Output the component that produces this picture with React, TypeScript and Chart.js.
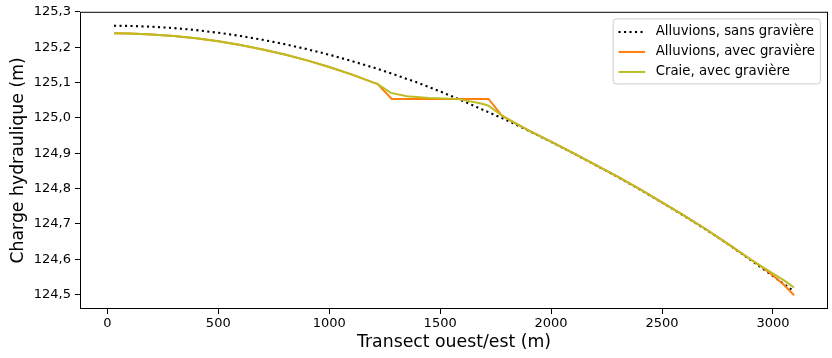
import React, { useEffect, useRef } from "react";
import { Chart, registerables } from "chart.js";

Chart.register(...registerables);

// ---- data ----
const seriesLabels = [
  "Alluvions, sans gravière",
  "Alluvions, avec gravière",
  "Craie, avec gravière",
];

const xBlack = [30, 100, 200, 300, 400, 500, 600, 700, 800, 900, 1000, 1100, 1200, 1300, 1400, 1500, 1600, 1700, 1800, 1900, 2000, 2100, 2200, 2300, 2400, 2500, 2600, 2700, 2800, 2900, 3000, 3095];
const yBlack = [125.2605, 125.26, 125.2578, 125.2539, 125.2482, 125.2407, 125.2316, 125.2208, 125.2083, 125.1943, 125.1786, 125.1609, 125.1421, 125.121, 125.0991, 125.0747, 125.0485, 125.0207, 124.9933, 124.9633, 124.9318, 124.8997, 124.8664, 124.8328, 124.7971, 124.7602, 124.7222, 124.6831, 124.6413, 124.5974, 124.5522, 124.509];

const xOrange = [30, 100, 200, 300, 400, 500, 600, 700, 800, 900, 1000, 1100, 1200, 1217, 1282, 1718, 1778, 1800, 1900, 2000, 2100, 2200, 2300, 2400, 2500, 2600, 2700, 2800, 2900, 2950, 3000, 3050, 3095];
const yOrange = [125.239, 125.2385, 125.236, 125.2315, 125.225, 125.2165, 125.206, 125.1935, 125.179, 125.1625, 125.144, 125.123, 125.0995, 125.096, 125.0536, 125.0536, 125.0065, 124.9985, 124.964, 124.9325, 124.9, 124.867, 124.8335, 124.798, 124.761, 124.723, 124.684, 124.642, 124.599, 124.578, 124.554, 124.527, 124.498];

const xGreen = [30, 100, 200, 300, 400, 500, 600, 700, 800, 900, 1000, 1100, 1200, 1217, 1278, 1350, 1450, 1575, 1680, 1716, 1778, 1800, 1900, 2000, 2100, 2200, 2300, 2400, 2500, 2600, 2700, 2800, 2900, 2950, 3000, 3050, 3095];
const yGreen = [125.239, 125.2385, 125.236, 125.2315, 125.225, 125.2165, 125.206, 125.1935, 125.179, 125.1625, 125.144, 125.123, 125.0995, 125.096, 125.0705, 125.061, 125.056, 125.0536, 125.041, 125.035, 125.0065, 124.9985, 124.964, 124.9325, 124.9, 124.867, 124.8335, 124.798, 124.761, 124.723, 124.684, 124.642, 124.599, 124.579, 124.5595, 124.54, 124.52];

const xTicks = [0, 500, 1000, 1500, 2000, 2500, 3000];
const yTicks = [124.5, 124.6, 124.7, 124.8, 124.9, 125.0, 125.1, 125.2, 125.3];

const xTitle = "Transect ouest/est (m)";
const yTitle = "Charge hydraulique (m)";

const FONT = "'DejaVu Sans', sans-serif";

const toPts = (xs: number[], ys: number[]) => xs.map((x, i) => ({ x, y: ys[i] }));

const framePlugin = {
  id: "frameAndLegend",
  afterDraw(chart: any) {
    const { ctx, chartArea } = chart;
    const { left, top, right, bottom } = chartArea;
    ctx.save();
    // spines
    ctx.strokeStyle = "#000";
    ctx.lineWidth = 1;
    ctx.setLineDash([]);
    ctx.strokeRect(left + 0.5, top + 0.5, right - left - 1, bottom - top - 1);

    // legend (matplotlib style)
    const fs = 13.3;
    ctx.font = `${fs}px ${FONT}`;
    const ds = chart.data.datasets;
    let tw = 0;
    ds.forEach((d: any) => {
      tw = Math.max(tw, ctx.measureText(d.label).width);
    });
    const pad = 0.4 * fs;
    const handle = 2 * fs;
    const hpad = 0.8 * fs;
    const w = pad * 2 + handle + hpad + tw;
    const bx1 = right - 0.5 * fs - 1;
    const bx0 = bx1 - w;
    const by0 = top + 0.5 * fs + 0.5;
    const h = 65;
    const r = 3;
    ctx.beginPath();
    ctx.moveTo(bx0 + r, by0);
    ctx.lineTo(bx1 - r, by0);
    ctx.quadraticCurveTo(bx1, by0, bx1, by0 + r);
    ctx.lineTo(bx1, by0 + h - r);
    ctx.quadraticCurveTo(bx1, by0 + h, bx1 - r, by0 + h);
    ctx.lineTo(bx0 + r, by0 + h);
    ctx.quadraticCurveTo(bx0, by0 + h, bx0, by0 + h - r);
    ctx.lineTo(bx0, by0 + r);
    ctx.quadraticCurveTo(bx0, by0, bx0 + r, by0);
    ctx.closePath();
    ctx.fillStyle = "rgba(255,255,255,0.8)";
    ctx.fill();
    ctx.strokeStyle = "#cccccc";
    ctx.lineWidth = 1;
    ctx.stroke();

    ds.forEach((d: any, i: number) => {
      const cy = by0 + 13 + i * 20;
      const hx0 = bx0 + pad;
      ctx.beginPath();
      ctx.strokeStyle = d.borderColor;
      ctx.lineWidth = d.borderWidth;
      ctx.setLineDash(d.borderDash || []);
      ctx.moveTo(hx0, cy);
      ctx.lineTo(hx0 + handle, cy);
      ctx.stroke();
      ctx.setLineDash([]);
      ctx.fillStyle = "#000";
      ctx.textBaseline = "middle";
      ctx.textAlign = "left";
      ctx.fillText(d.label, hx0 + handle + hpad, cy);
    });
    ctx.restore();
  },
};

export default function App() {
  const ref = useRef<HTMLCanvasElement | null>(null);

  useEffect(() => {
    const canvas = ref.current;
    if (!canvas) return;
    const chart = new Chart(canvas, {
      type: "line",
      data: {
        datasets: [
          {
            label: seriesLabels[0],
            data: toPts(xBlack, yBlack),
            borderColor: "#000000",
            borderWidth: 2.1,
            borderDash: [2.1, 3.4],
            borderCapStyle: "butt",
            pointRadius: 0,
            tension: 0,
            order: 3,
          },
          {
            label: seriesLabels[1],
            data: toPts(xOrange, yOrange),
            borderColor: "#ff7f0e",
            borderWidth: 2,
            pointRadius: 0,
            tension: 0,
            order: 2,
          },
          {
            label: seriesLabels[2],
            data: toPts(xGreen, yGreen),
            borderColor: "#bcbd22",
            borderWidth: 2,
            pointRadius: 0,
            tension: 0,
            order: 1,
          },
        ],
      },
      options: {
        responsive: false,
        animation: false,
        devicePixelRatio: 1,
        layout: { padding: { top: 11, right: 4, left: 0, bottom: 0 } },
        plugins: {
          legend: { display: false },
          tooltip: { enabled: false },
        },
        scales: {
          x: {
            type: "linear",
            min: -123.2,
            max: 3248,
            afterBuildTicks: (s: any) => {
              s.ticks = xTicks.map((v) => ({ value: v }));
            },
            afterFit: (s: any) => {
              s.height = 49;
            },
            grid: {
              display: true,
              drawOnChartArea: false,
              drawTicks: true,
              tickLength: 5,
              tickColor: "#000",
              color: "#000",
            },
            border: { display: false },
            ticks: {
              color: "#000",
              font: { family: FONT, size: 13 },
              padding: 2,
              maxRotation: 0,
              autoSkip: false,
              callback: (v: any) => String(v),
            },
            title: {
              display: true,
              text: xTitle,
              color: "#000",
              font: { family: FONT, size: 17.3 },
              padding: { top: 0, bottom: 5 },
            },
          },
          y: {
            type: "linear",
            min: 124.459,
            max: 125.3,
            afterBuildTicks: (s: any) => {
              s.ticks = yTicks.map((v) => ({ value: v }));
            },
            afterFit: (s: any) => {
              s.width = 80;
            },
            grid: {
              display: true,
              drawOnChartArea: false,
              drawTicks: true,
              tickLength: 5,
              tickColor: "#000",
              color: "#000",
            },
            border: { display: false },
            ticks: {
              color: "#000",
              font: { family: FONT, size: 13 },
              padding: 4,
              autoSkip: false,
              callback: (v: any) => Number(v).toFixed(1).replace(".", ","),
            },
            title: {
              display: true,
              text: yTitle,
              color: "#000",
              font: { family: FONT, size: 17.3 },
              padding: { top: 8, bottom: 0 },
            },
          },
        },
      },
      plugins: [framePlugin],
    });
    return () => chart.destroy();
  }, []);

  return (
    <div style={{ position: "fixed", left: 0, top: 0, width: 832, height: 358, background: "#fff" }}>
      <canvas ref={ref} width={832} height={358} style={{ width: 832, height: 358, display: "block" }} />
    </div>
  );
}
